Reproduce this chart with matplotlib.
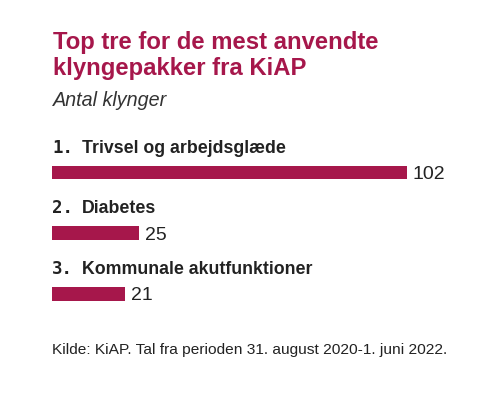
import matplotlib
matplotlib.use("Agg")
import matplotlib.pyplot as plt

# data
ranks = ["1.", "2.", "3."]
categories = ["Trivsel og arbejdsglæde", "Diabetes", "Kommunale akutfunktioner"]
values = [102, 25, 21]

title_lines = ["Top tre for de mest anvendte", "klyngepakker fra KiAP"]
subtitle = "Antal klynger"
source = "Kilde: KiAP. Tal fra perioden 31. august 2020-1. juni 2022."

crimson = "#A6174B"
W, H = 480, 398

plt.rcParams["font.family"] = ["Liberation Sans", "DejaVu Sans"]

fig = plt.figure(figsize=(W / 100, H / 100), dpi=100)
fig.patch.set_facecolor("white")

# axes placed in pixel terms: left 52px, bars centred at ~172/233/294px
left, top, bottom = 52, 142.25, 324
ax = fig.add_axes([left / W, 1 - bottom / H, (W - left) / W, (bottom - top) / H])
ax.set_xlim(0, 123)
ax.set_ylim(2.5, -0.5)
ax.axis("off")

ypos = list(range(len(values)))
ax.barh(ypos, values, height=0.225, color=crimson)

for i, (r, c, v) in enumerate(zip(ranks, categories, values)):
    ax.annotate(r, xy=(0, i), xytext=(0, 20), textcoords="offset pixels",
                ha="left", va="baseline", fontsize=12.5, fontweight="bold",
                family="DejaVu Sans Mono", color="#222222", annotation_clip=False)
    ax.annotate(c, xy=(0, i), xytext=(30, 20), textcoords="offset pixels",
                ha="left", va="baseline", fontsize=12.8, fontweight="bold",
                color="#222222", annotation_clip=False)
    ax.annotate(str(v), xy=(v, i), xytext=(6, -2), textcoords="offset pixels",
                ha="left", va="center", fontsize=14, color="#222222",
                annotation_clip=False)

for k, line in enumerate(title_lines):
    fig.text(53 / W, 1 - (49 + 26 * k) / H, line, ha="left", va="baseline",
             fontsize=17.2, fontweight="bold", color=crimson)
fig.text(53 / W, 1 - 106 / H, subtitle, ha="left", va="baseline", fontsize=14.2,
         style="italic", color="#333333")
fig.text(52 / W, 1 - 354 / H, source, ha="left", va="baseline", fontsize=11.15,
         color="#222222")

fig.savefig("out.png", dpi=100)
